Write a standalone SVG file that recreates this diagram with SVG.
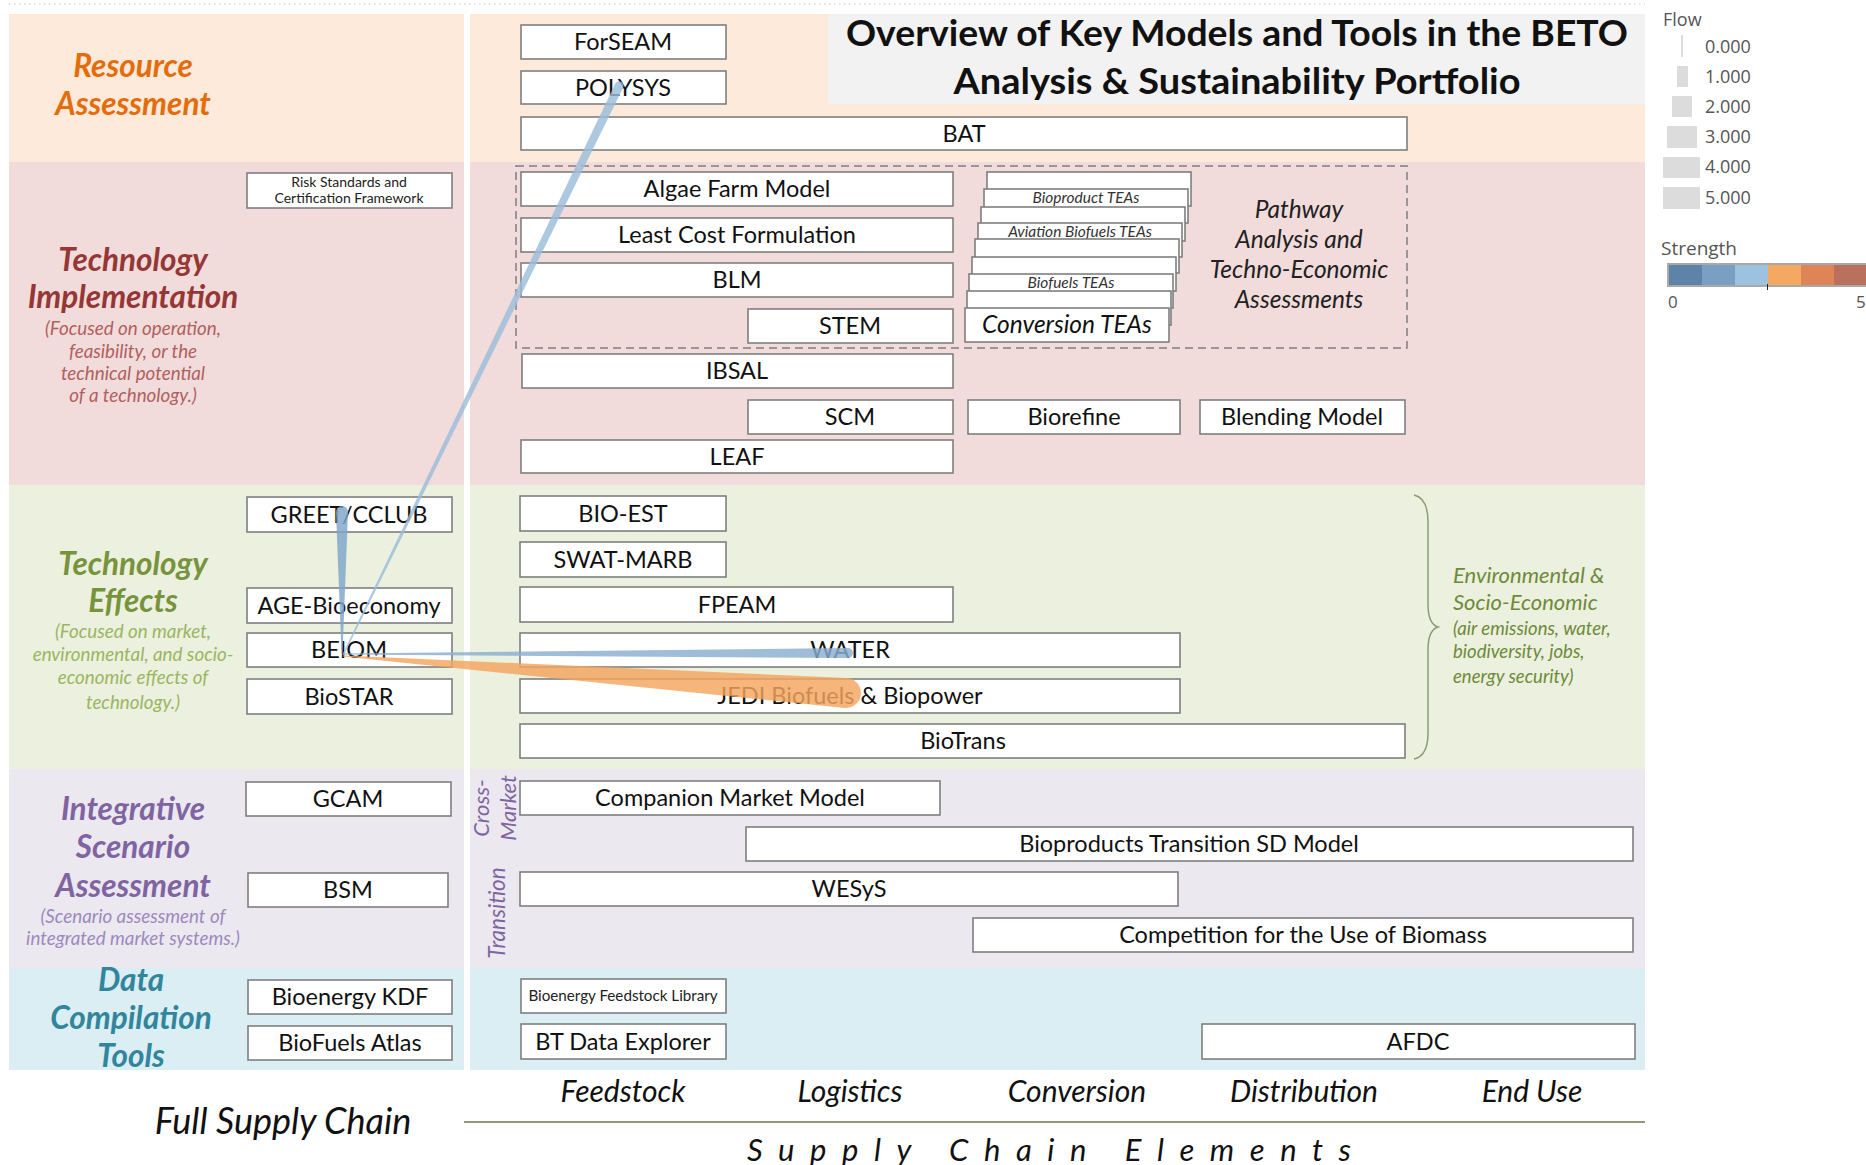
<svg xmlns="http://www.w3.org/2000/svg" width="1866" height="1165" viewBox="0 0 1866 1165">
<defs>
<style>
.box{fill:#fff;stroke:#7f7f7f;stroke-width:1.6}
.t{font-family:Lato,"Liberation Sans",sans-serif;font-size:23.5px;fill:#111;text-anchor:middle}
.ts{font-family:Lato,"Liberation Sans",sans-serif;font-size:14px;fill:#222;text-anchor:middle}
.tea{font-family:Lato,"Liberation Sans",sans-serif;font-size:15.5px;font-style:italic;fill:#333;text-anchor:middle}
.cat{font-family:Lato,"Liberation Sans",sans-serif;font-size:31.5px;font-weight:bold;font-style:italic;text-anchor:middle}
.sub{font-family:Lato,"Liberation Sans",sans-serif;font-size:18.8px;font-style:italic;text-anchor:middle}
.it{font-family:Lato,"Liberation Sans",sans-serif;font-style:italic}
.leg{font-family:"Open Sans","Liberation Sans",sans-serif;fill:#555}
</style>
</defs>
<rect x="0" y="0" width="1866" height="1165" fill="#fff"/>
<line x1="9" y1="4" x2="1645" y2="4" stroke="#c8c8c8" stroke-width="1.2" stroke-dasharray="1.5,3.5"/>
<g id="bands">
<rect x="9" y="14" width="455" height="148" fill="#fdeada"/>
<rect x="470" y="14" width="1175" height="148" fill="#fdeada"/>
<rect x="9" y="162" width="455" height="323" fill="#f2dcdb"/>
<rect x="470" y="162" width="1175" height="323" fill="#f2dcdb"/>
<rect x="9" y="485" width="455" height="284" fill="#ebf1de"/>
<rect x="470" y="485" width="1175" height="284" fill="#ebf1de"/>
<rect x="9" y="769" width="455" height="199" fill="#ebe8ef"/>
<rect x="470" y="769" width="1175" height="199" fill="#ebe8ef"/>
<rect x="9" y="968" width="455" height="102" fill="#daeef3"/>
<rect x="470" y="968" width="1175" height="102" fill="#daeef3"/>
<rect x="828" y="14" width="817" height="90" fill="#f2f2f2"/>
</g>
<g id="title">
<text x="1237" y="46" font-family="Lato,'Liberation Sans',sans-serif" font-size="37" font-weight="bold" fill="#111" text-anchor="middle" textLength="782" lengthAdjust="spacingAndGlyphs">Overview of Key Models and Tools in the BETO</text>
<text x="1237" y="94" font-family="Lato,'Liberation Sans',sans-serif" font-size="37" font-weight="bold" fill="#111" text-anchor="middle" textLength="567" lengthAdjust="spacingAndGlyphs">Analysis &amp; Sustainability Portfolio</text>
</g>
<g id="cat-resource">
<text class="cat" x="133" y="77" fill="#e46c0a">Resource</text>
<text class="cat" x="133" y="115" fill="#e46c0a">Assessment</text>
</g>
<g id="cat-implementation">
<text class="cat" x="133" y="271" fill="#953735">Technology</text>
<text class="cat" x="133" y="308" fill="#953735">Implementation</text>
<text class="sub" x="133" y="335" fill="#b0605e">(Focused on operation,</text>
<text class="sub" x="133" y="358" fill="#b0605e">feasibility, or the</text>
<text class="sub" x="133" y="380" fill="#b0605e">technical potential</text>
<text class="sub" x="133" y="402" fill="#b0605e">of a technology.)</text>
</g>
<g id="cat-effects">
<text class="cat" x="133" y="575" fill="#77933c">Technology</text>
<text class="cat" x="133" y="612" fill="#77933c">Effects</text>
<text class="sub" x="133" y="638" fill="#9bb561">(Focused on market,</text>
<text class="sub" x="133" y="661" fill="#9bb561">environmental, and socio-</text>
<text class="sub" x="133" y="684" fill="#9bb561">economic effects of</text>
<text class="sub" x="133" y="709" fill="#9bb561">technology.)</text>
</g>
<g id="cat-integrative">
<text class="cat" x="133" y="820" fill="#8064a2">Integrative</text>
<text class="cat" x="133" y="858" fill="#8064a2">Scenario</text>
<text class="cat" x="133" y="897" fill="#8064a2">Assessment</text>
<text class="sub" x="133" y="923" fill="#9d88c0">(Scenario assessment of</text>
<text class="sub" x="133" y="945" fill="#9d88c0">integrated market systems.)</text>
</g>
<g id="cat-data">
<text class="cat" x="131" y="991" fill="#31859c">Data</text>
<text class="cat" x="131" y="1029" fill="#31859c">Compilation</text>
<text class="cat" x="131" y="1067" fill="#31859c">Tools</text>
</g>
<g id="sub-labels">
<text class="it" font-size="22" fill="#8064a2" transform="translate(489,808) rotate(-90)" text-anchor="middle">Cross-</text>
<text class="it" font-size="22" fill="#8064a2" transform="translate(516,808) rotate(-90)" text-anchor="middle">Market</text>
<text class="it" font-size="22.5" fill="#8064a2" transform="translate(505,913) rotate(-90)" text-anchor="middle">Transition</text>
</g>
<g id="pathway-group">
<rect x="516" y="166" width="891" height="182" fill="none" stroke="#7f7f7f" stroke-width="1.5" stroke-dasharray="8,5"/>
<text class="it" font-size="24.5" fill="#222" text-anchor="middle" x="1299" y="218">Pathway</text>
<text class="it" font-size="24.5" fill="#222" text-anchor="middle" x="1299" y="248">Analysis and</text>
<text class="it" font-size="24.5" fill="#222" text-anchor="middle" x="1299" y="278">Techno-Economic</text>
<text class="it" font-size="24.5" fill="#222" text-anchor="middle" x="1299" y="308">Assessments</text>
</g>
<g id="n-risk"><rect class="box" x="247" y="173" width="205" height="35"/><text class="ts" x="349" y="187">Risk Standards and</text><text class="ts" x="349" y="203">Certification Framework</text></g>
<g id="n-greet"><rect class="box" x="247" y="497" width="205" height="35"/><text class="t" x="349" y="523">GREET/CCLUB</text></g>
<g id="n-age"><rect class="box" x="247" y="588" width="205" height="35"/><text class="t" x="349" y="614">AGE-Bioeconomy</text></g>
<g id="n-beiom"><rect class="box" x="247" y="633" width="205" height="34"/><text class="t" x="349" y="658">BEIOM</text></g>
<g id="n-biostar"><rect class="box" x="247" y="679" width="205" height="35"/><text class="t" x="349" y="705">BioSTAR</text></g>
<g id="n-gcam"><rect class="box" x="246" y="782" width="205" height="34"/><text class="t" x="348" y="807">GCAM</text></g>
<g id="n-bsm"><rect class="box" x="248" y="873" width="200" height="34"/><text class="t" x="348" y="898">BSM</text></g>
<g id="n-kdf"><rect class="box" x="248" y="980" width="204" height="34"/><text class="t" x="350" y="1005">Bioenergy KDF</text></g>
<g id="n-atlas"><rect class="box" x="248" y="1026" width="204" height="34"/><text class="t" x="350" y="1051">BioFuels Atlas</text></g>
<g id="n-forseam"><rect class="box" x="521" y="25" width="205" height="34"/><text class="t" x="623" y="50">ForSEAM</text></g>
<g id="n-polysys"><rect class="box" x="521" y="71" width="205" height="33"/><text class="t" x="623" y="96">POLYSYS</text></g>
<g id="n-bat"><rect class="box" x="521" y="117" width="886" height="33"/><text class="t" x="964" y="142">BAT</text></g>
<g id="n-algae"><rect class="box" x="521" y="172" width="432" height="34"/><text class="t" x="737" y="197">Algae Farm Model</text></g>
<g id="n-lcf"><rect class="box" x="521" y="218" width="432" height="34"/><text class="t" x="737" y="243">Least Cost Formulation</text></g>
<g id="n-blm"><rect class="box" x="521" y="263" width="432" height="34"/><text class="t" x="737" y="288">BLM</text></g>
<g id="n-stem"><rect class="box" x="748" y="309" width="205" height="34"/><text class="t" x="850" y="334">STEM</text></g>
<g id="n-ibsal"><rect class="box" x="522" y="354" width="431" height="34"/><text class="t" x="737" y="379">IBSAL</text></g>
<g id="n-scm"><rect class="box" x="748" y="400" width="205" height="34"/><text class="t" x="850" y="425">SCM</text></g>
<g id="n-leaf"><rect class="box" x="521" y="440" width="432" height="33"/><text class="t" x="737" y="465">LEAF</text></g>
<g id="n-biorefine"><rect class="box" x="968" y="400" width="212" height="34"/><text class="t" x="1074" y="425">Biorefine</text></g>
<g id="n-blending"><rect class="box" x="1200" y="400" width="205" height="34"/><text class="t" x="1302" y="425">Blending Model</text></g>
<g id="n-teas">
<rect class="box" x="987" y="172" width="204" height="34"/>
<rect class="box" x="984" y="189" width="204" height="34"/>
<rect class="box" x="981" y="207" width="204" height="34"/>
<rect class="box" x="978" y="223" width="204" height="34"/>
<rect class="box" x="975" y="239" width="204" height="34"/>
<rect class="box" x="972" y="257" width="204" height="34"/>
<rect class="box" x="969" y="274" width="204" height="34"/>
<rect class="box" x="967" y="291" width="204" height="34"/>
<rect class="box" x="965" y="308" width="204" height="34"/>
<text class="tea" x="1086" y="203">Bioproduct TEAs</text>
<text class="tea" x="1080" y="237">Aviation Biofuels TEAs</text>
<text class="tea" x="1071" y="288">Biofuels TEAs</text>
<text class="it" font-size="24.5" fill="#111" text-anchor="middle" x="1067" y="333">Conversion TEAs</text>
</g>
<g id="n-bioest"><rect class="box" x="520" y="496" width="206" height="35"/><text class="t" x="623" y="522">BIO-EST</text></g>
<g id="n-swat"><rect class="box" x="520" y="542" width="206" height="35"/><text class="t" x="623" y="568">SWAT-MARB</text></g>
<g id="n-fpeam"><rect class="box" x="520" y="587" width="433" height="35"/><text class="t" x="737" y="613">FPEAM</text></g>
<g id="n-water"><rect class="box" x="520" y="633" width="660" height="34"/><text class="t" x="850" y="658">WATER</text></g>
<g id="n-jedi"><rect class="box" x="520" y="679" width="660" height="34"/><text class="t" x="850" y="704">JEDI Biofuels &amp; Biopower</text></g>
<g id="n-biotrans"><rect class="box" x="520" y="724" width="885" height="34"/><text class="t" x="963" y="749">BioTrans</text></g>
<g id="n-companion"><rect class="box" x="520" y="781" width="420" height="34"/><text class="t" x="730" y="806">Companion Market Model</text></g>
<g id="n-bioproducts"><rect class="box" x="746" y="827" width="887" height="34"/><text class="t" x="1189" y="852">Bioproducts Transition SD Model</text></g>
<g id="n-wesys"><rect class="box" x="520" y="872" width="658" height="34"/><text class="t" x="849" y="897">WESyS</text></g>
<g id="n-competition"><rect class="box" x="973" y="918" width="660" height="34"/><text class="t" x="1303" y="943">Competition for the Use of Biomass</text></g>
<g id="n-bfl"><rect class="box" x="521" y="979" width="205" height="34"/><text class="ts" x="623" y="1001" style="font-size:15.2px">Bioenergy Feedstock Library</text></g>
<g id="n-btde"><rect class="box" x="521" y="1024" width="205" height="35"/><text class="t" x="623" y="1050">BT Data Explorer</text></g>
<g id="n-afdc"><rect class="box" x="1202" y="1024" width="433" height="35"/><text class="t" x="1418" y="1050">AFDC</text></g>
<g id="env-note">
<path d="M1414,495 Q1428,498 1428,522 L1428,604 Q1428,624 1438,627 Q1428,630 1428,650 L1428,733 Q1428,756 1414,759" fill="none" stroke="#8e9b7a" stroke-width="1.5"/>
<text class="it" font-size="22" fill="#6f8a3a" x="1453" y="583">Environmental &amp;</text>
<text class="it" font-size="22" fill="#6f8a3a" x="1453" y="610">Socio-Economic</text>
<text class="it" font-size="18.5" fill="#6f8a3a" x="1453" y="635">(air emissions, water,</text>
<text class="it" font-size="18.5" fill="#6f8a3a" x="1453" y="658">biodiversity, jobs,</text>
<text class="it" font-size="18.5" fill="#6f8a3a" x="1453" y="683">energy security)</text>
</g>
<g id="connectors" opacity="0.82">
<polygon points="342.3,654.7 343.7,655.3 623,88 615,84" fill="#9bbedb"/>
<circle cx="619" cy="86" r="4.5" fill="#9bbedb"/>
<polygon points="341.5,653 342.5,653 348,512 336,512" fill="#7ea6ca"/>
<circle cx="342" cy="512" r="6" fill="#7ea6ca"/>
<polygon points="343,653.5 343,654.5 848,658 848,648" fill="#8aafd1"/>
<circle cx="848" cy="653" r="5" fill="#8aafd1"/>
<polygon points="343,656.5 343,655.5 847.1,678 844.9,708" fill="#f5a55e"/>
<circle cx="846" cy="693" r="15" fill="#f5a55e"/>
</g>
<g id="axis">
<text class="it" font-size="30" fill="#111" text-anchor="middle" x="623" y="1102">Feedstock</text>
<text class="it" font-size="30" fill="#111" text-anchor="middle" x="850" y="1102">Logistics</text>
<text class="it" font-size="30" fill="#111" text-anchor="middle" x="1077" y="1102">Conversion</text>
<text class="it" font-size="30" fill="#111" text-anchor="middle" x="1304" y="1102">Distribution</text>
<text class="it" font-size="30" fill="#111" text-anchor="middle" x="1532" y="1102">End Use</text>
<line x1="464" y1="1122" x2="1645" y2="1122" stroke="#8e9b7a" stroke-width="2"/>
<text class="it" font-size="36" fill="#111" text-anchor="middle" x="283" y="1134">Full Supply Chain</text>
<text class="it" font-size="31" fill="#111" x="747" y="1161" textLength="604" lengthAdjust="spacing">Supply Chain Elements</text>
</g>
<g id="legend">
<text class="leg" x="1663" y="26" font-size="18" fill="#333">Flow</text>
<rect x="1681" y="35" width="2" height="22" fill="#dcdcdc"/>
<rect x="1677" y="66" width="11" height="21" fill="#dcdcdc"/>
<rect x="1672" y="96" width="20" height="21" fill="#dcdcdc"/>
<rect x="1667" y="126" width="30" height="22" fill="#dcdcdc"/>
<rect x="1663" y="157" width="37" height="21" fill="#dcdcdc"/>
<rect x="1663" y="187" width="37" height="22" fill="#dcdcdc"/>
<text class="leg" x="1705" y="53" font-size="18">0.000</text>
<text class="leg" x="1705" y="83" font-size="18">1.000</text>
<text class="leg" x="1705" y="113" font-size="18">2.000</text>
<text class="leg" x="1705" y="143" font-size="18">3.000</text>
<text class="leg" x="1705" y="173" font-size="18">4.000</text>
<text class="leg" x="1705" y="204" font-size="18">5.000</text>
<text class="leg" x="1661" y="255" font-size="19" fill="#333">Strength</text>
<rect x="1667" y="263" width="200" height="24" fill="#a9a9a9"/>
<rect x="1669" y="265" width="33" height="20" fill="#5e83a8"/>
<rect x="1702" y="265" width="33" height="20" fill="#7a9fc3"/>
<rect x="1735" y="265" width="33" height="20" fill="#9cc2df"/>
<rect x="1768" y="265" width="33" height="20" fill="#f5a862"/>
<rect x="1801" y="265" width="33" height="20" fill="#df8457"/>
<rect x="1834" y="265" width="32" height="20" fill="#b9705c"/>
<line x1="1767.5" y1="284" x2="1767.5" y2="290" stroke="#222" stroke-width="1"/>
<text class="leg" x="1668" y="308" font-size="17">0</text>
<text class="leg" x="1856" y="308" font-size="17">5</text>
</g>
</svg>
